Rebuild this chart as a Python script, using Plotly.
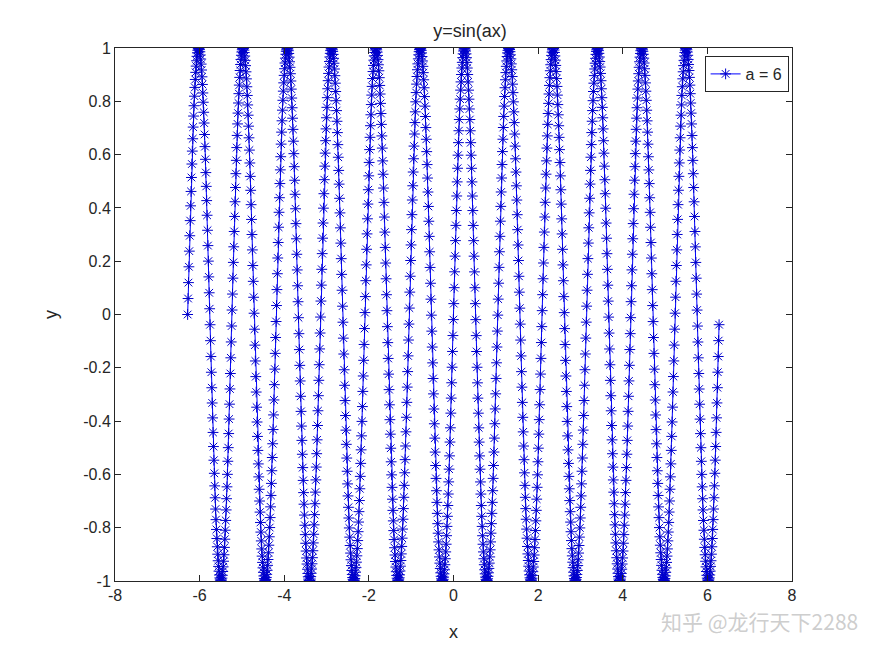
import numpy as np
import plotly.graph_objects as go

# Parameters of the plotted function y = sin(a x), sampled as in the source (step 0.01)
a = 6
x_start, x_stop, x_step = -2 * np.pi, 2 * np.pi, 0.01
x_vals = np.arange(x_start, x_stop, x_step)
y_vals = np.sin(a * x_vals)

x_ticks = [-8, -6, -4, -2, 0, 2, 4, 6, 8]
y_ticks = [-1, -0.8, -0.6, -0.4, -0.2, 0, 0.2, 0.4, 0.6, 0.8, 1]

fig = go.Figure()
fig.add_trace(go.Scatter(
    x=x_vals, y=y_vals, mode="lines+markers", name="a = 6",
    line=dict(color="#0000ff", width=1),
    marker=dict(symbol="asterisk-open", size=9, color="#0000cc",
                line=dict(width=1, color="#0000cc")),
))

axis_common = dict(showgrid=False, zeroline=False, showline=True, mirror="ticks",
                   linecolor="#262626", linewidth=1, ticks="inside", ticklen=6,
                   tickcolor="#262626", tickfont=dict(family="Liberation Sans", size=16, color="#262626"))
fig.update_xaxes(range=[-8, 8], tickvals=x_ticks, ticktext=[str(t) for t in x_ticks],
                 title=dict(text="x", font=dict(size=18, color="#262626"), standoff=22), **axis_common)
fig.update_yaxes(range=[-1, 1], tickvals=y_ticks,
                 ticktext=[("%g" % t) for t in y_ticks],
                 title=dict(text="y", font=dict(size=18, color="#262626"), standoff=20), **axis_common)

fig.update_layout(
    width=875, height=656, plot_bgcolor="white", paper_bgcolor="white",
    margin=dict(l=107, r=91, t=40, b=83),
    font=dict(family="Liberation Sans", color="#262626"),
    title=dict(text="y=sin(ax)", x=0.528, xanchor="center", y=0.975, yanchor="top",
               font=dict(size=18, color="#262626")),
    showlegend=True,
    legend=dict(x=0.995, y=0.985, xanchor="right", yanchor="top",
                bordercolor="#262626", borderwidth=1, bgcolor="white",
                font=dict(size=16, color="#262626")),
)
fig.add_annotation(text="知乎 @龙行天下2288", xref="paper", yref="paper", x=1.1, y=-0.075,
                   xanchor="right", yanchor="middle", showarrow=False,
                   font=dict(family="Noto Sans CJK SC", size=21, color="rgba(200,200,200,0.9)"))
fig.write_html("out.html")
